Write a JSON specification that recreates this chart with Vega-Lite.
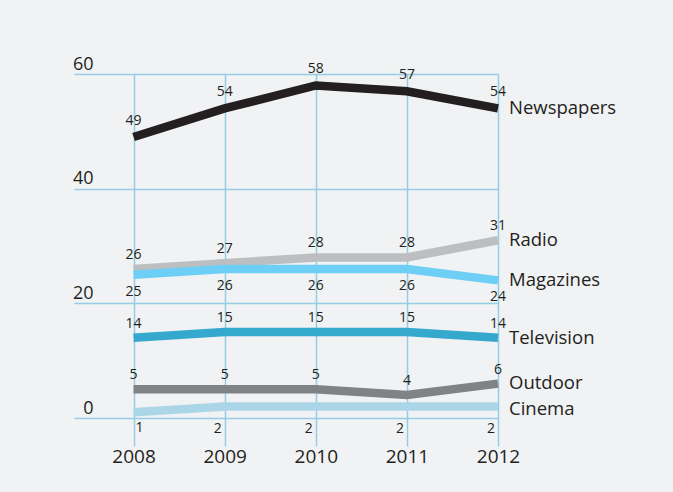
{
  "$schema": "https://vega.github.io/schema/vega-lite/v6.json",
  "width": 424,
  "height": 344,
  "autosize": {"type": "none"},
  "padding": {"left": 74, "top": 74, "right": 175, "bottom": 74},
  "background": "#f1f2f4",
  "config": {
    "view": {"stroke": null},
    "font": "Open Sans",
    "text": {"font": "Open Sans", "color": "#231f20", "fill": "#231f20"}
  },
  "data": {
    "values": [
      {"series": "Cinema", "year": 2008, "value": 1},
      {"series": "Cinema", "year": 2009, "value": 2},
      {"series": "Cinema", "year": 2010, "value": 2},
      {"series": "Cinema", "year": 2011, "value": 2},
      {"series": "Cinema", "year": 2012, "value": 2},
      {"series": "Outdoor", "year": 2008, "value": 5},
      {"series": "Outdoor", "year": 2009, "value": 5},
      {"series": "Outdoor", "year": 2010, "value": 5},
      {"series": "Outdoor", "year": 2011, "value": 4},
      {"series": "Outdoor", "year": 2012, "value": 6},
      {"series": "Television", "year": 2008, "value": 14},
      {"series": "Television", "year": 2009, "value": 15},
      {"series": "Television", "year": 2010, "value": 15},
      {"series": "Television", "year": 2011, "value": 15},
      {"series": "Television", "year": 2012, "value": 14},
      {"series": "Radio", "year": 2008, "value": 26},
      {"series": "Radio", "year": 2009, "value": 27},
      {"series": "Radio", "year": 2010, "value": 28},
      {"series": "Radio", "year": 2011, "value": 28},
      {"series": "Radio", "year": 2012, "value": 31},
      {"series": "Magazines", "year": 2008, "value": 25},
      {"series": "Magazines", "year": 2009, "value": 26},
      {"series": "Magazines", "year": 2010, "value": 26},
      {"series": "Magazines", "year": 2011, "value": 26},
      {"series": "Magazines", "year": 2012, "value": 24},
      {"series": "Newspapers", "year": 2008, "value": 49},
      {"series": "Newspapers", "year": 2009, "value": 54},
      {"series": "Newspapers", "year": 2010, "value": 58},
      {"series": "Newspapers", "year": 2011, "value": 57},
      {"series": "Newspapers", "year": 2012, "value": 54}
    ]
  },
  "encoding": {
    "x": {
      "field": "year",
      "type": "quantitative",
      "scale": {"domain": [2007.3465, 2012], "nice": false, "zero": false},
      "axis": {
        "title": null,
        "values": [2008, 2009, 2010, 2011, 2012],
        "format": "d",
        "domain": false,
        "ticks": true,
        "tickSize": 28,
        "tickColor": "#95cde4",
        "tickWidth": 1.5,
        "grid": true,
        "gridColor": "#95cde4",
        "gridWidth": 1.5,
        "gridOpacity": 1,
        "labelFlush": false,
        "labelPadding": 1,
        "labelFont": "Open Sans",
        "labelFontSize": 19,
        "labelColor": "#231f20"
      }
    },
    "y": {
      "field": "value",
      "type": "quantitative",
      "scale": {"domain": [0, 60], "nice": false, "zero": false},
      "axis": {
        "title": null,
        "values": [0, 20, 40, 60],
        "domain": false,
        "ticks": false,
        "grid": true,
        "gridColor": "#95cde4",
        "gridWidth": 1.5,
        "gridOpacity": 1,
        "labelFlush": false,
        "labelAlign": "right",
        "labelPadding": -19,
        "labelBaseline": "alphabetic",
        "labelOffset": -5,
        "labelFont": "Open Sans",
        "labelFontSize": 18,
        "labelColor": "#231f20"
      }
    }
  },
  "layer": [
    {
      "mark": {"type": "line", "strokeWidth": 8.5, "strokeCap": "butt", "strokeJoin": "miter"},
      "encoding": {
        "color": {
          "field": "series",
          "type": "nominal",
          "scale": {
            "domain": ["Cinema", "Outdoor", "Television", "Radio", "Magazines", "Newspapers"],
            "range": ["#abd6e8", "#808285", "#35a8ce", "#bcbec0", "#6dcff6", "#231f20"]
          },
          "legend": null
        }
      }
    },
    {
      "transform": [{"filter": "datum.series == 'Newspapers'"}],
      "mark": {"type": "text", "fontSize": 14, "dy": -16, "baseline": "middle", "align": "center"},
      "encoding": {"text": {"field": "value", "type": "quantitative"}}
    },
    {
      "transform": [{"filter": "datum.series == 'Radio' || datum.series == 'Television' || datum.series == 'Outdoor'"}],
      "mark": {"type": "text", "fontSize": 14, "dy": -14, "baseline": "middle", "align": "center"},
      "encoding": {"text": {"field": "value", "type": "quantitative"}}
    },
    {
      "transform": [{"filter": "datum.series == 'Magazines'"}],
      "mark": {"type": "text", "fontSize": 14, "dy": 17, "baseline": "middle", "align": "center"},
      "encoding": {"text": {"field": "value", "type": "quantitative"}}
    },
    {
      "transform": [{"filter": "datum.series == 'Cinema' && datum.year == 2008"}],
      "mark": {"type": "text", "fontSize": 14, "dx": 6, "dy": 16, "baseline": "middle", "align": "center"},
      "encoding": {"text": {"field": "value", "type": "quantitative"}}
    },
    {
      "transform": [{"filter": "datum.series == 'Cinema' && datum.year > 2008"}],
      "mark": {"type": "text", "fontSize": 14, "dx": -7, "dy": 22, "baseline": "middle", "align": "center"},
      "encoding": {"text": {"field": "value", "type": "quantitative"}}
    },
    {
      "transform": [{"filter": "datum.year == 2012 && datum.series != 'Cinema' && datum.series != 'Outdoor'"}],
      "mark": {"type": "text", "fontSize": 18.5, "dx": 11, "baseline": "middle", "align": "left"},
      "encoding": {"text": {"field": "series", "type": "nominal"}}
    },
    {
      "transform": [{"filter": "datum.year == 2012 && datum.series == 'Outdoor'"}],
      "mark": {"type": "text", "fontSize": 18.5, "dx": 11, "dy": -1, "baseline": "middle", "align": "left"},
      "encoding": {"text": {"field": "series", "type": "nominal"}}
    },
    {
      "transform": [{"filter": "datum.year == 2012 && datum.series == 'Cinema'"}],
      "mark": {"type": "text", "fontSize": 18.5, "dx": 11, "dy": 2, "baseline": "middle", "align": "left"},
      "encoding": {"text": {"field": "series", "type": "nominal"}}
    }
  ]
}
